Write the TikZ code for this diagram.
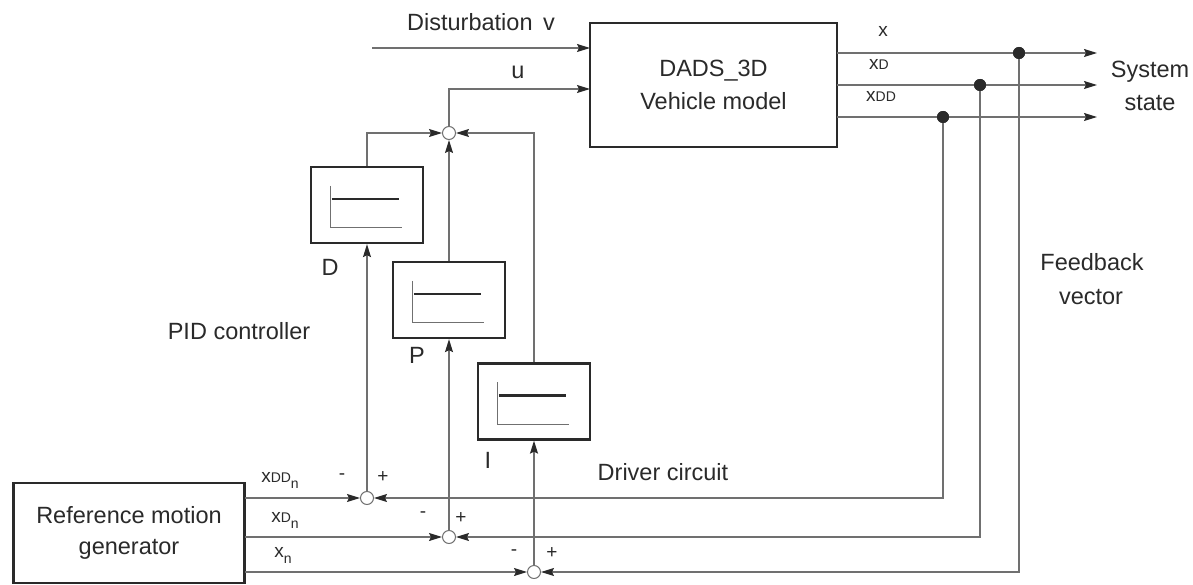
\documentclass[tikz,border=0pt]{standalone}
\usepackage{fontspec}
\setmainfont{Liberation Sans}
\usetikzlibrary{arrows.meta,calc}
\definecolor{ink}{HTML}{2A2A2A}
\definecolor{wire}{HTML}{707070}
\newcommand\smD{{\fontsize{14}{14}\selectfont D}}
\newcommand\subn{\raisebox{-6pt}{\fontsize{14}{14}\selectfont n}}
\newcommand\stepgfx[1]{%
  \draw[wire,line width=1pt] ($(#1.north west)+(21,20)$) -- ($(#1.north west)+(21,62)$) -- ($(#1.north west)+(92,62)$);
  \draw[ink,line width=2.3pt] ($(#1.north west)+(22,33)$) -- ($(#1.north west)+(89,33)$);}
\begin{document}
\begin{tikzpicture}[x=1pt,y=-1pt,
  every node/.style={font=\fontsize{23.5}{27}\selectfont,text=ink},
  blockbox/.style={draw=ink,line width=2.3pt,fill=white,inner sep=0pt,align=center},
  ctrlbox/.style={blockbox,minimum width=112pt,minimum height=76pt},
  sumj/.style={circle,draw=wire,line width=1pt,fill=white,minimum size=13pt,inner sep=0pt},
  fbdot/.style={circle,fill=ink,minimum size=12pt,inner sep=0pt},
  wireln/.style={draw=wire,line width=1.2pt},
  arr/.style={wireln,-{Stealth[length=13pt,width=8pt,inset=2pt,color=ink]}},
  sgn/.style={font=\fontsize{19}{19}\selectfont},
  lbl/.style={font=\fontsize{19}{19}\selectfont},
]
\useasboundingbox (0,0) rectangle (1193,585);
% blocks
\node[blockbox,minimum width=247pt,minimum height=124pt] (veh) at (713.5,85) {DADS\_3D\\[6pt]Vehicle model};
\node[blockbox,minimum width=231pt,minimum height=100pt] (ref) at (129,533) {Reference motion\\[4pt]generator};
\node[ctrlbox] (D) at (367,205) {};
\node[ctrlbox] (P) at (449,300) {};
\node[ctrlbox] (I) at (534,401.5) {};
\stepgfx{D}
\stepgfx{P}
\stepgfx{I}
% junctions
\node[sumj] (sT) at (449,133) {};
\node[sumj] (s1) at (367,498) {};
\node[sumj] (s2) at (449,537) {};
\node[sumj] (s3) at (534,572) {};
% coordinates
\coordinate (dv) at (372,48);
\coordinate (vdv) at (590,48);
\coordinate (vu) at (590,89);
\coordinate (ux) at (449,89);
\coordinate (dtop) at (367,133);
\coordinate (itop) at (534,133);
\coordinate (ox) at (837,53);
\coordinate (oxd) at (837,85);
\coordinate (oxdd) at (837,117);
\coordinate (ex) at (1097,53);
\coordinate (exd) at (1097,85);
\coordinate (exdd) at (1097,117);
\node[fbdot] (fx) at (1019,53) {};
\node[fbdot] (fxd) at (980,85) {};
\node[fbdot] (fxdd) at (943,117) {};
\coordinate (cx) at (1019,572);
\coordinate (cxd) at (980,537);
\coordinate (cxdd) at (943,498);
\coordinate (rxdd) at (245,498);
\coordinate (rxd) at (245,537);
\coordinate (rx) at (245,572);
% connectors
\draw[arr] (dv) -- (vdv);
\draw[arr] (sT.north) -- (ux) -- (vu);
\draw[arr] (D.north) -- (dtop) -- (sT.west);
\draw[arr] (I.north) -- (itop) -- (sT.east);
\draw[arr] (P.north) -- (sT.south);
\draw[arr] (s1.north) -- (D.south);
\draw[arr] (s2.north) -- (P.south);
\draw[arr] (s3.north) -- (I.south);
\draw[arr] (rxdd) -- (s1.west);
\draw[arr] (rxd) -- (s2.west);
\draw[arr] (rx) -- (s3.west);
\draw[arr] (ox) -- (ex);
\draw[arr] (oxd) -- (exd);
\draw[arr] (oxdd) -- (exdd);
\draw[arr] (fxdd.center) -- (cxdd) -- (s1.east);
\draw[arr] (fxd.center) -- (cxd) -- (s2.east);
\draw[arr] (fx.center) -- (cx) -- (s3.east);
\node[fbdot] at (fx) {};
\node[fbdot] at (fxd) {};
\node[fbdot] at (fxdd) {};
% labels
\node (tdist) at (481,22) {Disturbation\, v};
\node (tu) at (518,72) {u};
\node[lbl] (tx) at (883,31) {x};
\node[lbl] (txd) at (879,64) {x\smD};
\node[lbl] (txdd) at (881,96) {x\smD\smD};
\node (tsys) at (1150,72) {System};
\node (tstate) at (1150,103) {state};
\node (tfb) at (1092,262) {Feedback};
\node (tvec) at (1091,297) {vector};
\node (tpid) at (239,331) {PID controller};
\node (tdrv) at (663,472) {Driver circuit};
\node (tD) at (330,267) {D};
\node (tP) at (417,355) {P};
\node (tI) at (488,460) {I};
\node[lbl] (lxdd) at (280,480) {x\smD\smD\subn};
\node[lbl] (lxd) at (285,520) {x\smD\subn};
\node[lbl] (lx) at (283,555) {x\subn};
\node[sgn] at (342,477) {-};
\node[sgn] at (383,477) {+};
\node[sgn] at (423,515) {-};
\node[sgn] at (461,518) {+};
\node[sgn] at (514,553) {-};
\node[sgn] at (552,553) {+};
\end{tikzpicture}
\end{document}
